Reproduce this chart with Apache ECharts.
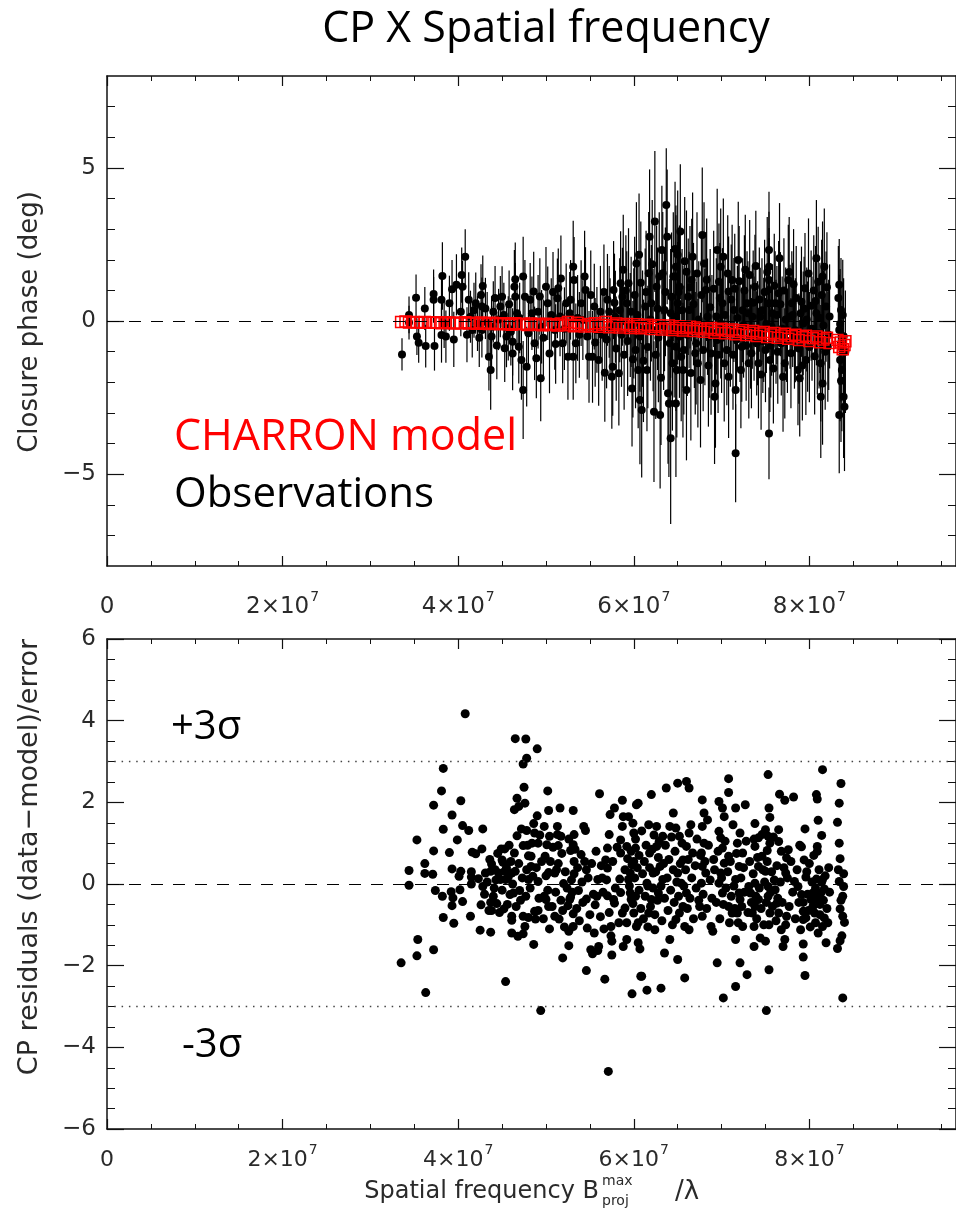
<!DOCTYPE html>
<html><head><meta charset="utf-8">
<script src="https://cdn.jsdelivr.net/npm/echarts@6/dist/echarts.min.js"></script>
<style>html,body{margin:0;padding:0;background:#fff}#c{width:956px;height:1210px}</style>
</head><body><div id="c"></div>
<script>
// ---------- DATA (spatial frequency in units of 10^7) ----------
const xMajorTicks = [0, 2, 4, 6, 8];
const xMinorTicks = [0.5, 1, 1.5, 2.5, 3, 3.5, 4.5, 5, 5.5, 6.5, 7, 7.5, 8.5, 9, 9.5];
const cpMajorTicks = [-5, 0, 5];
const cpMinorTicks = [-7, -6, -4, -3, -2, -1, 1, 2, 3, 4, 6, 7];
const resMajorTicks = [-6, -4, -2, 0, 2, 4, 6];
const resMinorTicks = [-5.5, -5, -4.5, -3.5, -3, -2.5, -1.5, -1, -0.5, 0.5, 1, 1.5, 2.5, 3, 3.5, 4.5, 5, 5.5];
const sigmaLevels = [3, -3];

// Observations: [frequency, closure phase (deg), error (deg)]
const observations = [
[3.36,-1.09,0.53],[3.44,0.20,0.6],[3.44,-0.05,0.55],[3.52,0.76,0.76],[3.53,-0.51,0.6],[3.55,-0.71,0.65],[3.62,0.41,0.7],[3.63,-0.82,0.7],[3.72,0.88,0.8],[3.72,0.69,0.75],[3.73,-0.82,0.8],[3.82,1.47,1.1],[3.81,0.69,0.85],[3.81,-0.46,0.9],[3.84,-0.08,0.8],[3.86,-0.51,0.85],[3.90,0.58,0.9],[3.93,1.04,0.95],[3.95,-0.60,0.9],[3.98,1.18,1.0],[4.04,1.50,0.9],[4.08,2.10,0.9],[4.05,1.12,0.85],[4.03,0.30,0.8],[4.12,0.69,0.9],[4.14,0.14,0.85],[4.16,-0.29,0.9],[4.20,0.58,1.0],[4.22,-0.08,0.9],[4.26,0.85,1.0],[4.28,1.14,1.0],[4.27,0.47,0.95],[4.27,-0.29,0.9],[4.31,0.41,1.0],[4.37,-1.60,1.3],[4.35,-1.17,1.1],[4.38,-0.51,1.0],[4.40,0.30,1.0],[4.38,-0.19,1.0],[4.48,0.47,1.0],[4.52,0.20,1.05],[4.50,0.79,1.0],[4.53,-0.89,1.1],[4.55,-0.51,1.0],[4.57,-0.24,1.05],[4.62,-0.68,1.1],[4.62,-1.06,1.2],[4.64,1.12,1.2],[4.65,0.79,1.1],[4.65,1.36,1.2],[4.67,0.25,1.1],[4.69,-0.84,1.2],[4.72,-1.27,1.3],[4.74,-2.25,1.6],[4.74,1.45,1.3],[4.76,0.79,1.2],[4.78,-1.49,1.3],[4.82,0.69,1.2],[4.86,0.96,1.3],[4.87,-0.73,1.2],[4.89,-1.22,1.3],[4.91,0.30,1.2],[4.94,-1.87,1.4],[4.95,-0.19,1.2],[5.00,1.12,1.3],[5.02,0.58,1.2],[5.04,-1.06,1.3],[5.06,0.20,1.2],[5.10,-0.29,1.3],[5.13,0.74,1.3],[5.14,1.07,1.3],[5.17,1.39,1.4],[5.19,-0.73,1.3],[5.23,0.58,1.3],[5.25,-1.17,1.4],[5.28,0.69,1.3],[5.31,1.77,1.5],[5.32,1.34,1.4],[5.31,-1.17,1.4],[5.34,-0.73,1.3],[5.40,0.58,1.4],[5.42,0.03,1.3],[5.44,1.45,1.5],[5.45,1.01,1.4],[5.47,-0.51,1.4],[5.49,-1.17,1.5],[5.53,-1.17,1.5],[5.55,0.47,1.4],[5.58,-0.29,1.4],[5.60,-1.27,1.5],
[4.10,-0.45,0.9],[4.18,0.35,0.9],[4.24,-0.55,0.95],[4.33,-0.05,1.0],[4.42,0.75,1.05],[4.44,-0.80,1.1],[4.46,0.05,1.0],[4.58,0.55,1.1],[4.60,-0.35,1.1],[4.70,0.10,1.15],[4.80,-0.40,1.2],[4.84,0.25,1.2],[4.93,0.80,1.25],[4.97,-0.55,1.25],[5.08,0.95,1.3],[5.11,-0.75,1.3],[5.16,0.15,1.3],[5.21,-0.25,1.35],[5.27,0.25,1.35],[5.36,0.10,1.4],[5.38,-0.45,1.4],[5.51,0.85,1.45],[5.56,-0.70,1.45],[5.62,0.30,1.5],[5.64,-0.45,1.5],
[5.67,-1.69,1.6],[5.70,0.69,1.5],[5.72,0.30,1.5],[5.75,-1.82,1.7],[5.76,-1.49,1.6],[5.77,1.01,1.6],[5.79,0.14,1.5],[5.83,-1.71,1.7],[5.85,1.23,1.7],[5.87,0.79,1.6],[5.88,1.67,1.8],[5.92,0.58,1.7],[5.94,1.23,1.8],[5.96,-0.13,1.7],[5.98,-2.20,1.9],[6.00,-0.08,1.8],[6.03,1.88,2.0],[6.06,2.16,2.0],[6.07,-0.51,1.8],[6.05,-1.60,1.9],[6.07,-2.58,2.1],[6.09,-2.91,2.2],[6.13,0.47,1.9],[6.15,-1.60,2.0],[6.17,1.56,2.0],[6.18,2.75,2.2],[6.20,0.58,1.9],[6.22,-0.29,2.0],[6.23,-2.96,2.3],[6.24,3.25,2.3],[6.26,1.12,2.0],[6.30,-3.07,2.4],[6.32,2.32,2.1],[6.33,1.56,2.0],[6.35,0.36,2.0],[6.37,3.79,1.85],[6.38,2.75,2.2],[6.39,-2.36,2.3],[6.40,-2.69,2.4],[6.41,-0.73,2.1],[6.42,-3.83,2.8],[6.43,0.79,2.1],[6.44,-1.38,2.2],[6.45,1.45,2.1],
[5.66,0.95,1.55],[5.69,-0.60,1.6],[5.73,-0.20,1.6],[5.78,0.60,1.6],[5.80,-0.90,1.7],[5.84,0.35,1.7],[5.86,-0.45,1.7],[5.89,-1.10,1.8],[5.91,1.00,1.8],[5.93,-0.65,1.8],[5.97,0.30,1.8],[5.99,-1.25,1.9],[6.01,0.85,1.9],[6.02,-0.95,1.9],[6.04,0.20,1.9],[6.08,1.25,2.0],[6.10,-0.25,1.9],[6.11,-1.30,2.0],[6.14,0.95,2.0],[6.16,-0.85,2.0],[6.19,0.05,2.0],[6.21,1.85,2.1],[6.25,-1.10,2.1],[6.27,0.40,2.0],[6.28,-0.55,2.1],[6.29,1.45,2.1],[6.31,-1.85,2.2],[6.34,-0.15,2.1],[6.36,0.95,2.1],[6.42,0.25,2.1],[6.46,-0.40,2.1],[6.47,2.35,2.2],[6.49,-1.60,2.2],[6.51,0.95,2.1],[6.55,0.35,2.0],[6.57,-0.95,2.1],[6.58,1.95,2.1],[6.61,-0.45,2.0],[6.64,1.10,2.0],[6.65,-1.70,2.2],[6.68,0.55,2.0],[6.70,-1.05,2.0],[6.72,1.55,2.0],[6.74,0.05,1.9],[6.77,0.85,1.9],[6.79,-0.95,2.0],[6.81,-0.20,1.9],[6.83,1.35,2.0],[6.85,-1.45,2.0],[6.87,0.45,1.9],[6.89,-0.40,1.9],[6.91,1.05,1.9],[6.94,0.15,1.9],[6.96,-1.10,1.9],[6.98,0.75,1.8],[7.00,-0.55,1.8],[7.02,2.10,1.9],[7.04,0.20,1.8],[7.06,-0.95,1.8],[7.07,1.55,1.9],[7.10,-0.35,1.8],[7.11,0.70,1.8],[7.13,-1.10,1.8],[7.15,1.05,1.8],[7.17,-0.60,1.7],[7.18,0.10,1.7],[7.20,1.30,1.8],[7.22,-1.60,1.9],[7.24,0.35,1.7],[7.25,-0.15,1.7],[7.26,1.00,1.8],[7.28,-0.80,1.8],[7.30,0.25,1.7],[7.32,1.50,1.8],[7.34,-1.05,1.8],[7.36,0.60,1.7],[7.37,-0.25,1.7],[7.39,1.80,1.8],[7.41,-0.40,1.7],[7.43,0.70,1.7],[7.45,-1.75,1.8],[7.46,0.35,1.7],[7.47,-0.65,1.7],[7.49,0.95,1.7],[7.51,-0.10,1.6],[7.52,1.60,1.8],[7.56,-0.80,1.7],[7.58,0.25,1.6],[7.59,-1.55,1.8],[7.60,1.15,1.7],[7.62,-0.35,1.7],[7.63,0.20,1.6],[7.64,-1.00,1.7],[7.67,0.55,1.7],[7.69,-0.25,1.7],[7.71,1.00,1.7],[7.73,0.05,1.7],[7.75,-0.65,1.7],[7.77,1.60,1.8],[7.79,-1.05,1.8],[7.81,0.20,1.7],[7.82,1.20,1.8],[7.84,-0.30,1.7],[7.85,0.75,1.7],[7.88,-0.90,1.8],[7.90,0.25,1.7],[7.92,-1.45,1.8],[7.94,0.40,1.7],[7.97,0.05,1.7],[7.99,1.55,1.8],[8.00,-0.85,1.8],[8.02,0.50,1.8],[8.03,-0.25,1.7],[8.05,1.00,1.8],[8.06,-1.15,1.9],[8.07,0.65,1.8],[8.09,-0.60,1.8],[8.12,0.10,1.8],[8.14,0.85,1.8],[8.16,-0.15,1.8],[8.18,-1.00,1.9],[8.20,1.10,1.8],[8.22,-0.45,1.8],[8.23,0.15,1.7],[8.33,0.75,1.7],[8.35,-0.10,1.8],[8.36,-1.95,2.0],[8.38,0.20,1.8],[8.39,-0.50,1.9],[8.41,-1.00,2.0],
[6.53,2.92,2.2],[6.50,2.16,2.1],[6.48,1.77,2.0],[6.48,1.45,2.0],[6.52,1.12,2.0],[6.50,0.58,2.0],[6.48,0.14,1.9],[6.56,-0.19,2.0],[6.52,-0.51,2.0],[6.48,-0.84,2.1],[6.54,-1.17,2.1],[6.56,-1.60,2.2],[6.60,-2.25,2.3],[6.48,-2.69,2.4],[6.60,1.61,2.0],[6.62,0.79,1.9],[6.63,0.36,1.9],[6.67,2.10,2.1],[6.66,1.34,2.0],[6.69,-0.29,1.9],[6.71,-0.73,2.0],[6.73,-1.38,2.1],[6.76,-1.93,2.2],[6.78,2.81,2.2],[6.80,1.88,2.0],[6.82,1.01,1.9],[6.84,0.14,1.9],[6.86,-0.51,2.0],[6.88,-1.06,2.0],[6.92,-2.47,2.2],[6.95,2.32,2.0],[6.99,1.77,1.9],[6.97,1.28,1.9],[7.01,0.58,1.8],[6.99,-0.08,1.8],[6.95,-0.62,1.9],[6.93,-2.04,2.1],[7.03,-1.38,1.9],[7.08,-1.82,2.0],[7.08,0.96,1.8],[7.12,1.34,1.8],[7.14,0.36,1.7],[7.16,-2.25,2.0],[7.16,-4.32,1.6],[7.19,1.99,1.9],[7.21,-0.29,1.7],[7.23,-0.84,1.8],[7.27,1.67,1.8],[7.29,0.58,1.7],[7.31,-1.38,1.8],[7.33,-0.51,1.7],[7.35,0.14,1.7],[7.38,1.12,1.7],[7.40,-0.73,1.7],[7.42,-1.38,1.8],[7.44,0.14,1.6],[7.48,-0.29,1.7],[7.50,-0.95,1.7],[7.54,2.32,1.9],[7.54,1.77,1.8],[7.54,1.34,1.7],[7.54,1.01,1.7],[7.54,0.58,1.6],[7.54,-3.67,1.5],[7.55,-1.27,1.7],[7.57,-0.19,1.6],[7.61,0.58,1.7],[7.65,0.91,1.7],[7.66,2.05,1.8],[7.68,-0.73,1.7],[7.70,-1.82,1.8],[7.72,-1.38,1.8],[7.74,-0.29,1.7],[7.76,1.34,1.8],[7.78,0.14,1.7],[7.80,0.58,1.7],[7.83,-0.51,1.7],[7.87,-1.60,1.8],[7.89,-1.87,1.9],[7.91,0.63,1.8],[7.93,-0.08,1.7],[7.95,1.07,1.8],[7.96,-1.27,1.8],[7.98,-0.51,1.8],[8.08,2.05,1.9],[8.10,1.28,1.8],[8.08,0.25,1.7],[8.11,-0.40,1.8],[8.13,-1.38,1.9],[8.15,-2.04,2.0],[8.17,1.77,1.9],[8.15,1.45,1.8],[8.19,0.47,1.8],[8.21,-0.84,1.8],[8.13,-2.47,2.0],[8.34,1.18,1.5],[8.36,0.36,1.7],[8.34,-0.29,1.8],[8.36,-0.73,1.9],[8.35,-1.27,2.0],[8.37,-1.60,2.0],[8.39,-2.47,2.0],[8.40,-2.80,2.1],[8.34,-3.07,1.9]
];

// CHARRON model closure phase: [frequency, deg]
const modelCP = [
[3.35,-0.03],[3.40,-0.02],[3.44,-0.05],[3.49,-0.03],[3.53,-0.04],[3.58,-0.06],[3.62,-0.03],[3.67,-0.05],[3.72,-0.06],[3.76,-0.04],[3.81,-0.07],[3.86,-0.04],[3.90,-0.06],[3.95,-0.08],[3.98,-0.05],[4.03,-0.07],[4.08,-0.04],[4.12,-0.08],[4.16,-0.06],[4.21,-0.09],[4.26,-0.05],[4.30,-0.08],[4.35,-0.10],[4.39,-0.06],[4.44,-0.09],[4.48,-0.11],[4.52,-0.07],[4.57,-0.10],[4.61,-0.12],[4.65,-0.07],[4.70,-0.11],[4.74,-0.09],[4.79,-0.13],[4.83,-0.08],[4.88,-0.12],[4.92,-0.10],[4.96,-0.14],[5.00,-0.09],[5.05,-0.13],[5.09,-0.11],[5.13,-0.15],[5.17,-0.08],[5.21,-0.14],[5.25,-0.03],[5.28,-0.12],[5.32,-0.17],[5.36,-0.06],[5.40,-0.13],[5.44,-0.18],[5.48,-0.10],[5.52,-0.16],[5.56,-0.07],[5.60,-0.19],[5.64,-0.12],[5.68,-0.03],[5.72,-0.20],[5.76,-0.14],[5.80,-0.08],[5.84,-0.21],[5.88,-0.15],[5.92,-0.10],[5.96,-0.23],[6.00,-0.17],[6.04,-0.11],[6.08,-0.24],[6.12,-0.18],[6.16,-0.12],[6.20,-0.26],[6.24,-0.19],[6.28,-0.14],[6.32,-0.28],[6.36,-0.21],[6.40,-0.15],[6.44,-0.29],[6.48,-0.23],[6.52,-0.17],[6.56,-0.31],[6.60,-0.24],[6.64,-0.19],[6.68,-0.33],[6.72,-0.26],[6.76,-0.21],[6.80,-0.35],[6.84,-0.28],[6.88,-0.23],[6.92,-0.38],[6.96,-0.30],[7.00,-0.25],[7.04,-0.40],[7.08,-0.33],[7.12,-0.28],[7.16,-0.43],[7.20,-0.36],[7.24,-0.30],[7.28,-0.46],[7.32,-0.38],[7.36,-0.33],[7.40,-0.49],[7.44,-0.41],[7.48,-0.36],[7.52,-0.52],[7.56,-0.44],[7.60,-0.39],[7.64,-0.55],[7.68,-0.47],[7.72,-0.42],[7.76,-0.58],[7.80,-0.50],[7.84,-0.45],[7.88,-0.62],[7.92,-0.53],[7.96,-0.48],[8.00,-0.65],[8.04,-0.56],[8.08,-0.51],[8.12,-0.69],[8.16,-0.60],[8.20,-0.55],[8.23,-0.72],[8.32,-0.62],[8.34,-0.85],[8.36,-0.70],[8.38,-0.92],[8.40,-0.78],[8.41,-0.66]
];

// Residuals (data-model)/error: [frequency, residual]
const residuals = [
[4.08,4.17],[4.65,3.56],[4.77,3.55],[4.90,3.31],[4.78,3.08],[4.74,2.94],[3.83,2.83],[3.81,2.28],[3.72,1.93],[4.03,2.04],[3.93,1.69],[3.83,1.34],[4.05,1.43],[4.12,1.31],[4.28,1.35],[3.53,1.08],[3.99,1.08],[3.72,0.81],[3.90,0.77],[4.16,0.78],[4.20,0.74],[4.27,0.86],[3.62,0.50],[3.44,0.33],[3.62,0.26],[3.71,0.24],[3.93,0.37],[4.03,0.31],[4.01,0.19],[4.15,0.30],[4.15,0.17],[4.15,0.0],[3.44,-0.03],[3.74,-0.16],[3.82,-0.30],[3.92,-0.19],[3.94,-0.34],[3.93,-0.53],[4.02,-0.14],[4.05,-0.43],[3.83,-0.82],[3.95,-0.96],[4.14,-0.79],[3.54,-1.36],[3.53,-1.76],[3.35,-1.93],[3.72,-1.61],[3.63,-2.66],[4.25,-1.13],[4.37,-1.18],[4.26,-0.51],[4.37,-0.45],[4.35,-0.65],[4.38,-0.65],[4.44,-0.48],[4.52,-0.61],[4.28,-0.06],[4.23,0.13],[4.31,0.27],[4.37,0.31],[4.38,0.49],[4.42,0.35],[4.46,0.27],[4.48,0.11],[4.41,-0.10],[4.50,0.59],[4.51,0.53],[4.53,0.31],[4.54,0.11],[4.57,0.17],[4.60,0.55],[4.61,0.27],[4.65,0.31],[4.64,0.76],[4.49,0.86],[4.53,0.86],[4.59,-0.26],[4.63,-0.22],[4.70,-0.16],[4.61,-0.79],[4.61,-0.89],[4.61,-1.20],[4.68,-1.28],[4.74,-1.22],[4.74,-0.79],[4.76,-1.04],[4.80,-0.82],[4.54,-2.39],[4.86,-1.48],[4.94,-3.10],[4.67,1.18],[4.72,1.35],[4.78,1.31],[4.64,1.82],[4.67,2.10],[4.69,1.90],[4.76,1.98],[4.74,0.94],[4.75,2.37],[4.80,0.69],[4.83,0.68],[4.78,0.35],[4.83,0.43],[4.80,0.11],[4.85,0.19],[4.91,0.06],[4.86,1.48],[4.90,1.67],[4.91,1.00],[4.87,1.25],[4.93,1.20],[4.87,-0.67],[4.91,-0.65],[4.88,-0.86],[4.98,1.41],[5.04,1.17],[5.01,0.96],[4.99,0.68],[5.03,0.28],[4.98,-0.30],[5.00,-0.38],[5.03,-0.55],[5.04,-1.10],[5.02,2.28],[5.03,1.80],[5.10,0.27],[5.12,0.35],[5.13,1.41],[5.13,1.21],[5.14,0.94],[5.16,1.86],[5.17,1.17],[5.10,-0.79],[5.15,-0.86],[5.19,-0.65],[5.20,0.01],[5.19,-1.81],[5.27,-0.38],[5.25,-0.53],[5.28,-0.32],[5.31,-0.73],[5.31,-1.04],[5.26,-1.16],[5.26,-1.51],[5.31,1.80],[5.32,1.21],[5.31,0.96],[5.28,0.82],[5.32,0.55],[5.32,0.25],[5.37,-0.16],[5.40,0.72],[5.44,0.55],[5.43,1.41],[5.45,1.31],[5.46,0.35],[5.46,-2.12],[5.46,-0.37],[5.47,-1.08],[5.55,-1.20],[5.51,-1.61],[5.53,-1.71],[5.59,-1.63],[5.60,-1.53],[5.56,-0.51],[5.58,-0.30],[5.59,0.11],[5.64,0.15],[5.61,2.21],[5.67,-2.33],[5.71,-4.59],[5.66,-1.10],[5.70,-0.29],[5.74,-1.04],[5.74,-1.27],[5.75,-1.40],[5.75,-1.74],[5.77,-0.38],[5.78,-0.47],[5.68,0.59],[5.70,0.88],[5.70,0.39],[5.72,1.21],[5.73,1.70],[5.78,1.86],[5.85,1.08],[5.87,1.41],[5.88,1.65],[5.87,2.05],[5.85,0.76],[5.84,0.12],[5.85,-0.21],[5.88,-1.53],[5.98,-2.69],[5.90,-0.59],[5.87,-0.71],[5.92,-0.95],[5.94,0.11],[5.96,0.27],[5.98,0.47],[5.99,1.49],[6.02,0.88],[6.03,1.94],[6.05,1.98],[5.96,-0.22],[5.97,-0.38],[6.00,-0.71],[6.03,-1.04],[6.05,-1.44],[6.08,-2.26],[6.07,-1.59],
[5.94,1.65],[6.00,1.25],[5.92,0.92],[6.00,0.55],[6.02,-0.30],[6.05,-0.95],[5.92,-1.36],
[8.15,2.80],[7.53,2.68],[8.36,2.46],[8.34,1.98],[8.32,1.51],[8.34,1.00],[8.35,0.62],[8.34,0.06],[8.39,-0.06],[8.38,-0.30],[8.35,-0.61],[8.38,-0.79],[8.40,-0.94],[8.37,-1.27],[8.35,-1.39],[8.32,-1.58],[8.38,-2.79],
[8.08,2.19],[8.09,2.08],[8.10,1.56],[8.09,0.92],[8.09,0.80],[8.14,1.19],[7.95,1.35],[7.91,0.91],[7.94,0.59],[7.96,0.17],[7.95,-2.24],[7.93,-1.79],[7.93,-1.47],[7.90,-1.12],
[8.08,0.12],[8.15,0.11],[8.17,-0.12],[8.13,-0.22],[8.09,-0.38],[8.04,-0.55],[8.06,-0.71],[8.17,-0.83],[8.15,-1.04],[8.10,-1.20],[8.19,-1.44],
[7.66,2.20],[7.72,2.05],[7.82,2.13],
[7.65,1.33],[7.65,1.04],[7.68,0.80],[7.74,0.64],[7.73,0.27],[7.76,0.84],[7.83,0.06],[7.87,-0.06],[7.91,-0.26],[7.93,-0.45],
[7.93,-0.67],[7.93,-0.87],[7.96,-0.83],[8.04,-0.22],[8.02,-0.38],
[7.54,1.86],[7.55,1.63],[7.53,1.17],[7.55,1.00],[7.52,0.82],[7.50,0.31],[7.53,-0.06],[7.53,-0.30],[7.55,-0.71],[7.54,-1.00],[7.54,-2.10],[7.51,-3.10],
[7.61,-0.14],[7.63,-0.47],[7.65,-0.71],[7.68,-1.12],[7.72,-1.36],[7.74,-0.79],[7.70,-1.53],
[7.42,0.43],[7.46,0.68],[7.38,0.92],[7.37,1.10],[7.38,1.48],[7.42,1.13],[7.46,1.21],[7.50,1.33],
[7.37,-1.53],[7.44,-1.32],[7.50,-1.40],[7.37,-1.04],[7.35,-0.71],[7.38,-0.55],[7.42,-0.38],[7.33,-0.22],[7.31,-0.06],[7.38,0.02],
[7.27,1.94],[7.16,1.86],[7.21,1.25],[7.18,1.00],[7.24,0.76],[7.20,0.43],[7.16,0.11],[7.20,-0.22],[7.21,-0.38],[7.18,-0.71],[7.24,-1.04],[7.16,-1.36],[7.21,-1.93],[7.29,-2.22],[7.16,-2.51],
[7.08,2.58],[7.08,2.24],[7.01,1.86],[6.97,2.02],[7.03,1.65],[6.97,1.29],[6.99,1.13],[7.01,0.88],[7.08,0.68],[7.03,0.51],[6.99,0.27],[6.97,0.02],[7.01,-0.22],[7.08,-0.55],[7.12,-0.71],
[6.95,-1.93],[7.02,-2.79],
[6.78,2.06],[6.80,1.74],[6.84,1.57],[6.78,1.41],[6.80,1.00],[6.77,0.76],[6.78,0.43],[6.82,0.27],[6.77,0.02],[6.75,-0.55],[6.78,-0.79],[6.88,-1.04],[6.90,-1.16],
[6.63,2.35],[6.60,2.51],[6.50,2.47],[6.45,1.74],[6.48,1.37],[6.52,1.17],[6.60,0.92],[6.63,1.25],[6.67,0.76],[6.56,0.59],[6.50,0.27],[6.54,0.02],[6.60,-0.22],[6.56,-0.55],[6.52,-0.71],[6.48,-0.87],[6.58,-1.04],[6.63,-1.12],[6.50,-1.85],[6.58,-2.30],
[6.37,2.35],[6.20,2.19],[6.41,1.41],[6.26,1.41],[6.17,1.45],[6.33,1.17],[6.26,0.92],[6.18,0.76],[6.30,0.43],[6.22,0.27],[6.15,0.02],[6.33,0.11],[6.28,-0.22],[6.20,-0.38],[6.17,-0.71],[6.24,-1.12],[6.41,-1.36],[6.35,-1.69],[6.09,-2.26],[6.15,-2.60],[6.31,-2.55],
[5.90,0.35],[5.93,0.62],[5.95,-0.05],[5.97,0.80],[5.99,-0.48],[6.01,0.15],[6.02,1.10],[6.04,0.40],[6.06,-0.15],[6.06,0.70],[6.08,-0.60],[6.09,1.30],[6.10,0.25],[6.11,-0.85],[6.12,0.55],[6.13,-0.30],[6.14,0.95],[6.16,-0.05],[6.16,-1.05],[6.18,0.40],[6.19,-0.55],[6.21,0.85],[6.22,-0.10],[6.23,1.20],[6.24,-0.75],[6.25,0.30],[6.27,-0.40],[6.28,0.65],[6.29,1.05],[6.31,-0.05],[6.32,-0.90],[6.34,0.50],[6.35,-0.35],[6.36,0.95],[6.38,0.15],[6.39,-0.65],[6.40,0.60],[6.42,-0.15],[6.43,1.15],[6.44,-1.00],[6.45,0.35],[6.46,-0.45],[6.47,0.80],[6.49,0.05],[6.51,-0.30],[6.53,0.50],[6.55,1.00],[6.57,-0.05],[6.59,0.35],[6.61,-0.60],[6.62,0.60],[6.64,-0.35],[6.65,1.45],[6.66,0.15],[6.68,-0.85],[6.70,0.45],[6.71,-0.10],[6.72,1.10],[6.74,-0.40],[6.76,0.70],[6.79,-0.25],[6.81,0.55],[6.83,-0.60],[6.85,0.95],[6.87,0.10],[6.89,-0.35],[6.91,0.60],
[6.92,0.35],[6.94,-0.45],[6.96,0.80],[6.98,-0.85],[7.00,0.15],[7.02,-0.50],[7.04,1.05],[7.05,-0.10],[7.07,0.30],[7.09,-0.95],[7.10,0.55],[7.11,-0.30],[7.13,1.45],[7.14,-0.05],[7.15,-0.60],[7.17,0.75],[7.19,-0.95],[7.22,0.15],[7.23,-0.55],[7.25,0.40],[7.26,-0.20],[7.28,1.05],[7.30,-0.70],[7.32,0.55],[7.34,-0.45],[7.36,0.25],[7.39,-0.30],[7.40,-0.85],[7.41,0.65],[7.43,-0.10],[7.45,-0.60],[7.47,0.35],[7.48,-1.00],[7.49,0.05],[7.51,-0.45],[7.52,0.55],[7.56,-0.20],[7.57,0.30],[7.58,-0.55],[7.59,1.15],[7.60,0.10],[7.62,-0.90],[7.63,0.45],[7.64,-0.35],[7.67,0.05],[7.69,-0.45],[7.71,0.40],[7.73,-1.00],[7.75,0.15],[7.77,-0.55],[7.79,0.55],[7.81,-0.20],[7.84,-0.85],[7.86,0.35],[7.88,-0.45],[7.89,0.95],
[7.97,0.30],[7.98,-0.25],[7.99,-0.65],[8.00,0.50],[8.01,-1.05],[8.03,0.05],[8.05,-0.35],[8.05,0.70],[8.07,-0.95],[8.07,-0.10],[8.11,0.35],[8.12,-0.50],[8.12,-0.75],[8.14,0.05],[8.16,-0.40],[8.18,0.20],[8.20,-0.60],[8.21,-0.95],[8.22,0.40],[8.23,-0.20],[8.33,0.35],[8.36,-0.40],[8.39,0.25],
[4.30,-0.25],[4.33,0.05],[4.36,0.60],[4.40,-0.30],[4.43,0.10],[4.45,0.75],[4.47,-0.70],[4.50,-0.15],[4.55,0.40],[4.56,-0.50],[4.58,0.95],[4.62,0.00],[4.66,-0.55],[4.69,0.50],[4.71,-0.40],[4.73,0.15],[4.77,-0.30],[4.79,0.95],[4.82,-0.10],[4.84,1.00],[4.89,0.40],[4.92,-0.35],[4.95,0.55],[4.97,-0.85],[5.00,0.20],[5.02,-0.15],[5.05,0.55],[5.07,-0.55],[5.08,0.90],[5.11,-0.20],[5.14,0.50],[5.17,-0.40],[5.18,0.75],[5.21,-1.05],[5.22,0.30],[5.24,-0.10],[5.26,1.10],[5.29,0.10],[5.30,-0.20],[5.33,0.85],[5.35,-0.60],[5.36,0.40],[5.38,-0.90],[5.41,0.05],[5.42,-0.45],[5.48,0.15],[5.50,-0.75],[5.52,0.50],[5.54,-0.25],[5.57,0.80],[5.62,-0.80],[5.63,0.45],[5.65,-0.20],[5.69,0.10],[5.72,-0.70],[5.76,0.55],[5.79,-0.10],[5.81,0.90],[5.83,-0.95]
];

// ---------- CHART ----------
const XMAX = 9.67;
const LAB_FONT = '"DejaVu Sans", sans-serif';
const LAB_COLOR = '#2a2a2a';
const AX = '#111';

function xAxes(grid, labelSize, labelMargin) {
  const base = { type: 'value', gridIndex: grid, min: 0, max: XMAX, splitLine: { show: false } };
  return [
    Object.assign({}, base, {
      position: 'bottom',
      axisLine: { show: true, onZero: false, lineStyle: { color: AX, width: 1.5 } },
      axisTick: { show: true, inside: true, length: 10, customValues: xMajorTicks, lineStyle: { color: AX, width: 1.2 } },
      axisLabel: {
        show: true, customValues: xMajorTicks, margin: labelMargin,
        formatter: v => v === 0 ? '{n|0}' : '{n|' + v + '×10}{s|7}',
        rich: {
          n: { fontSize: labelSize, fontFamily: LAB_FONT, color: LAB_COLOR, lineHeight: labelSize + 12 },
          s: { fontSize: Math.round(labelSize * 0.62), fontFamily: LAB_FONT, color: LAB_COLOR, verticalAlign: 'top', lineHeight: 14, padding: [0, 0, 0, 1] }
        }
      }
    }),
    Object.assign({}, base, {
      position: 'bottom',
      axisLine: { show: false, onZero: false },
      axisTick: { show: true, inside: true, length: 5, customValues: xMinorTicks, lineStyle: { color: AX, width: 1 } },
      axisLabel: { show: false }
    }),
    Object.assign({}, base, {
      position: 'top',
      axisLine: { show: true, onZero: false, lineStyle: { color: AX, width: 1.5 } },
      axisTick: { show: true, inside: true, length: 10, customValues: xMajorTicks, lineStyle: { color: AX, width: 1.2 } },
      axisLabel: { show: false }
    }),
    Object.assign({}, base, {
      position: 'top',
      axisLine: { show: false, onZero: false },
      axisTick: { show: true, inside: true, length: 5, customValues: xMinorTicks, lineStyle: { color: AX, width: 1 } },
      axisLabel: { show: false }
    })
  ];
}

function yAxes(grid, min, max, major, minor) {
  const base = { type: 'value', gridIndex: grid, min: min, max: max, splitLine: { show: false } };
  const fmt = v => v < 0 ? '\u2212' + Math.abs(v) : String(v);
  return [
    Object.assign({}, base, {
      position: 'left',
      axisLine: { show: true, onZero: false, lineStyle: { color: AX, width: 1.5 } },
      axisTick: { show: true, inside: true, length: 17, customValues: major, lineStyle: { color: AX, width: 1.2 } },
      axisLabel: { show: true, customValues: major, margin: 11, formatter: fmt,
        fontSize: 23, fontFamily: LAB_FONT, color: LAB_COLOR }
    }),
    Object.assign({}, base, {
      position: 'left',
      axisLine: { show: false, onZero: false },
      axisTick: { show: true, inside: true, length: 8, customValues: minor, lineStyle: { color: AX, width: 1 } },
      axisLabel: { show: false }
    }),
    Object.assign({}, base, {
      position: 'right',
      axisLine: { show: true, onZero: false, lineStyle: { color: AX, width: 1.5 } },
      axisTick: { show: true, inside: true, length: 17, customValues: major, lineStyle: { color: AX, width: 1.2 } },
      axisLabel: { show: false }
    }),
    Object.assign({}, base, {
      position: 'right',
      axisLine: { show: false, onZero: false },
      axisTick: { show: true, inside: true, length: 8, customValues: minor, lineStyle: { color: AX, width: 1 } },
      axisLabel: { show: false }
    })
  ];
}

const chart = echarts.init(document.getElementById('c'), null, { renderer: 'canvas' });

const option = {
  animation: false,
  backgroundColor: '#fff',
  grid: [
    { left: 107, right: -11, top: 76, height: 490 },
    { left: 107, right: -11, top: 639, height: 490 }
  ],
  xAxis: [].concat(xAxes(0, 23, 24), xAxes(1, 22, 14)),
  yAxis: [].concat(yAxes(0, -8, 8, cpMajorTicks, cpMinorTicks), yAxes(1, -6, 6, resMajorTicks, resMinorTicks)),
  series: [
    {
      type: 'custom', xAxisIndex: 0, yAxisIndex: 0, data: observations,
      encode: { x: 0, y: 1 },
      renderItem: function (params, api) {
        const x = api.value(0), y = api.value(1), e = api.value(2);
        const p1 = api.coord([x, y - e]);
        const p2 = api.coord([x, y + e]);
        return { type: 'line', shape: { x1: p1[0], y1: p1[1], x2: p2[0], y2: p2[1] },
          style: { stroke: '#000', lineWidth: 1.2 } };
      },
      z: 2
    },
    {
      type: 'scatter', xAxisIndex: 0, yAxisIndex: 0,
      data: observations.map(d => [d[0], d[1]]),
      symbol: 'circle', symbolSize: 8, itemStyle: { color: '#000', opacity: 1 }, z: 3,
      markLine: { silent: true, symbol: 'none', label: { show: false },
        lineStyle: { type: [12, 10], color: '#000', width: 1.2 }, data: [{ yAxis: 0 }] }
    },
    {
      type: 'scatter', xAxisIndex: 0, yAxisIndex: 0, data: modelCP,
      symbol: 'rect', symbolSize: 11,
      itemStyle: { color: 'rgba(255,0,0,0)', borderColor: '#ff0000', borderWidth: 1.5, opacity: 1 }, z: 4
    },
    {
      type: 'scatter', xAxisIndex: 4, yAxisIndex: 4, data: residuals,
      symbol: 'circle', symbolSize: 9, itemStyle: { color: '#000', opacity: 1 }, z: 3,
      markLine: { silent: true, symbol: 'none', label: { show: false },
        data: [
          { yAxis: 0, lineStyle: { type: [12, 10], color: '#000', width: 1.2 } },
          { yAxis: sigmaLevels[0], lineStyle: { type: [1.5, 5.8], color: '#444', width: 1.4 } },
          { yAxis: sigmaLevels[1], lineStyle: { type: [1.5, 5.8], color: '#444', width: 1.4 } }
        ] }
    }
  ],
  graphic: [
    { type: 'text', x: 546, y: 8, style: { text: 'CP X Spatial frequency', font: '43px "Open Sans", sans-serif', fill: '#000', align: 'center' } },
    { type: 'text', x: 174, y: 438, style: { text: 'CHARRON model', font: '43px "Open Sans", sans-serif', fill: '#ff0000', verticalAlign: 'middle' } },
    { type: 'text', x: 174, y: 495, style: { text: 'Observations', font: '42px "Open Sans", sans-serif', fill: '#000', verticalAlign: 'middle' } },
    { type: 'text', x: 171, y: 728, style: { text: '+3σ', font: '40px "Open Sans", sans-serif', fill: '#000', verticalAlign: 'middle' } },
    { type: 'text', x: 182, y: 1046, style: { text: '-3σ', font: '40px "Open Sans", sans-serif', fill: '#000', verticalAlign: 'middle' } },
    { type: 'text', x: 30, y: 322, rotation: Math.PI / 2, style: { text: 'Closure phase (deg)', font: '26px "DejaVu Sans", sans-serif', fill: LAB_COLOR, align: 'center', verticalAlign: 'middle' } },
    { type: 'text', x: 30, y: 857, rotation: Math.PI / 2, style: { text: 'CP residuals (data\u2212model)/error', font: '27px "DejaVu Sans", sans-serif', fill: LAB_COLOR, align: 'center', verticalAlign: 'middle' } },
    { type: 'text', x: 599, y: 1192, style: { text: 'Spatial frequency B', font: '24px "DejaVu Sans", sans-serif', fill: LAB_COLOR, align: 'right', verticalAlign: 'middle' } },
    { type: 'text', x: 602, y: 1181, style: { text: 'max', font: '14px "DejaVu Sans", sans-serif', fill: LAB_COLOR, align: 'left', verticalAlign: 'middle' } },
    { type: 'text', x: 602, y: 1201, style: { text: 'proj', font: '14px "DejaVu Sans", sans-serif', fill: LAB_COLOR, align: 'left', verticalAlign: 'middle' } },
    { type: 'text', x: 675, y: 1192, style: { text: '/λ', font: '26px "DejaVu Sans", sans-serif', fill: LAB_COLOR, align: 'left', verticalAlign: 'middle' } }
  ]
};
chart.setOption(option);
</script></body></html>
